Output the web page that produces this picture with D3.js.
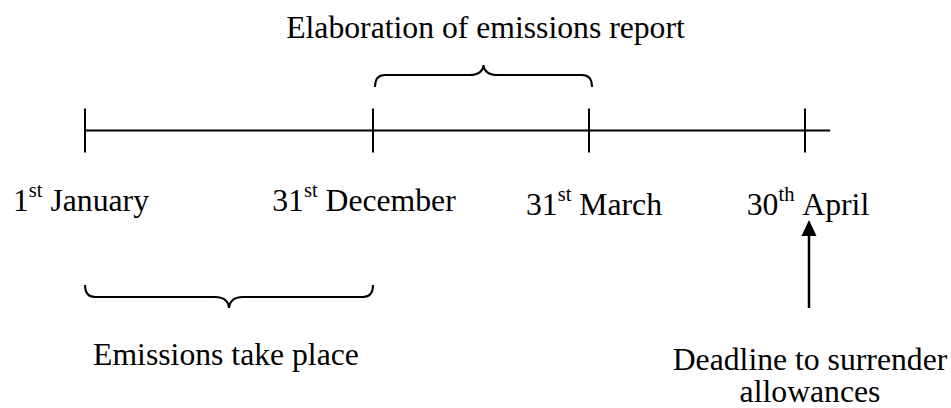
<!DOCTYPE html>
<html>
<head>
<meta charset="utf-8">
<script src="https://cdn.jsdelivr.net/npm/d3@7"></script>
<style>
  html, body { margin: 0; padding: 0; background: #fff; }
  svg { display: block; }
  text { font-family: "Liberation Serif", "Times New Roman", serif; fill: #000; }
</style>
</head>
<body>
<svg id="chart" width="951" height="408"></svg>
<script>
// ---- data ----
const milestoneNums = ["1", "31", "31", "30"];
const milestoneSups = ["st", "st", "st", "th"];
const milestoneMonths = ["January", "December", "March", "April"];
const milestonePos = [0, 4, 7, 10];           // schematic timeline position
const periodLabels = ["Emissions take place", "Elaboration of emissions report"];
const periodStart = [0, 4];
const periodEnd = [4, 7];
const periodSide = ["below", "above"];
const deadlineLines = ["Deadline to surrender", "allowances"];
const deadlinePos = 10;
const axisEnd = 10.35;

// ---- layout ----
const W = 951, H = 408;
const svg = d3.select("#chart");
const x = d3.scaleLinear().domain([0, 10]).range([85, 805]);
const lineY = 130.5;
const tickHalf = 22;
const fs = 31.7;
const labelBaseline = [210.5, 210.5, 215, 215];
const labelNudge = [-4, -9, 5, 3];

// main line
svg.append("line")
  .attr("x1", x(0)).attr("x2", x(axisEnd))
  .attr("y1", lineY).attr("y2", lineY)
  .attr("stroke", "#000").attr("stroke-width", 2);

// ticks
svg.selectAll("line.tick").data(milestonePos).join("line")
  .attr("class", "tick")
  .attr("x1", d => x(d)).attr("x2", d => x(d))
  .attr("y1", lineY - tickHalf).attr("y2", lineY + tickHalf)
  .attr("stroke", "#000").attr("stroke-width", 2);

// milestone labels with superscripts
const lab = svg.selectAll("text.ms").data(milestonePos).join("text")
  .attr("class", "ms")
  .attr("x", (d, i) => x(d) + labelNudge[i])
  .attr("y", (d, i) => labelBaseline[i])
  .attr("text-anchor", "middle")
  .style("font-size", fs + "px");
lab.append("tspan").text((d, i) => milestoneNums[i]);
lab.append("tspan").attr("dy", -14).style("font-size", "20.5px").text((d, i) => milestoneSups[i]);
lab.append("tspan").attr("dy", 14).text((d, i) => "\u00a0" + milestoneMonths[i]);

// curly brace path
function brace(x1, x2, yEnd, yH, yTip) {
  const mid = (x1 + x2) / 2;
  const r = 10, r2 = 14;
  const p = d3.path();
  p.moveTo(x1, yEnd);
  p.quadraticCurveTo(x1, yH, x1 + r, yH);
  p.lineTo(mid - r2, yH);
  p.bezierCurveTo(mid - 4, yH, mid, yH + (yTip - yH) * 0.5, mid, yTip);
  p.bezierCurveTo(mid, yH + (yTip - yH) * 0.5, mid + 4, yH, mid + r2, yH);
  p.lineTo(x2 - r, yH);
  p.quadraticCurveTo(x2, yH, x2, yEnd);
  return p.toString();
}

periodLabels.forEach((lbl, i) => {
  const x1 = x(periodStart[i]) + (periodSide[i] === "above" ? 2 : 0);
  const x2 = x(periodEnd[i]) + (periodSide[i] === "above" ? 3 : 0);
  const mid = (x1 + x2) / 2;
  if (periodSide[i] === "above") {
    svg.append("path").attr("d", brace(x1, x2, 87, 75, 65))
      .attr("fill", "none").attr("stroke", "#000").attr("stroke-width", 2);
    svg.append("text").attr("x", mid + 2).attr("y", 37.5)
      .attr("text-anchor", "middle").style("font-size", fs + "px").text(lbl);
  } else {
    svg.append("path").attr("d", brace(x1, x2, 285, 297, 308))
      .attr("fill", "none").attr("stroke", "#000").attr("stroke-width", 2);
    svg.append("text").attr("x", mid - 3).attr("y", 365)
      .attr("text-anchor", "middle").style("font-size", fs + "px").text(lbl);
  }
});

// deadline arrow
const ax = x(deadlinePos) + 4;
svg.append("line")
  .attr("x1", ax).attr("x2", ax).attr("y1", 308).attr("y2", 232)
  .attr("stroke", "#000").attr("stroke-width", 2.5);
svg.append("path")
  .attr("d", d3.line()([[ax, 220], [ax - 7.5, 236], [ax + 7.5, 236]]) + "Z")
  .attr("fill", "#000");

svg.selectAll("text.dl").data(deadlineLines).join("text")
  .attr("class", "dl")
  .attr("x", ax + 1)
  .attr("y", (d, i) => 370 + i * 32)
  .attr("text-anchor", "middle")
  .style("font-size", fs + "px")
  .text(d => d);
</script>
</body>
</html>
